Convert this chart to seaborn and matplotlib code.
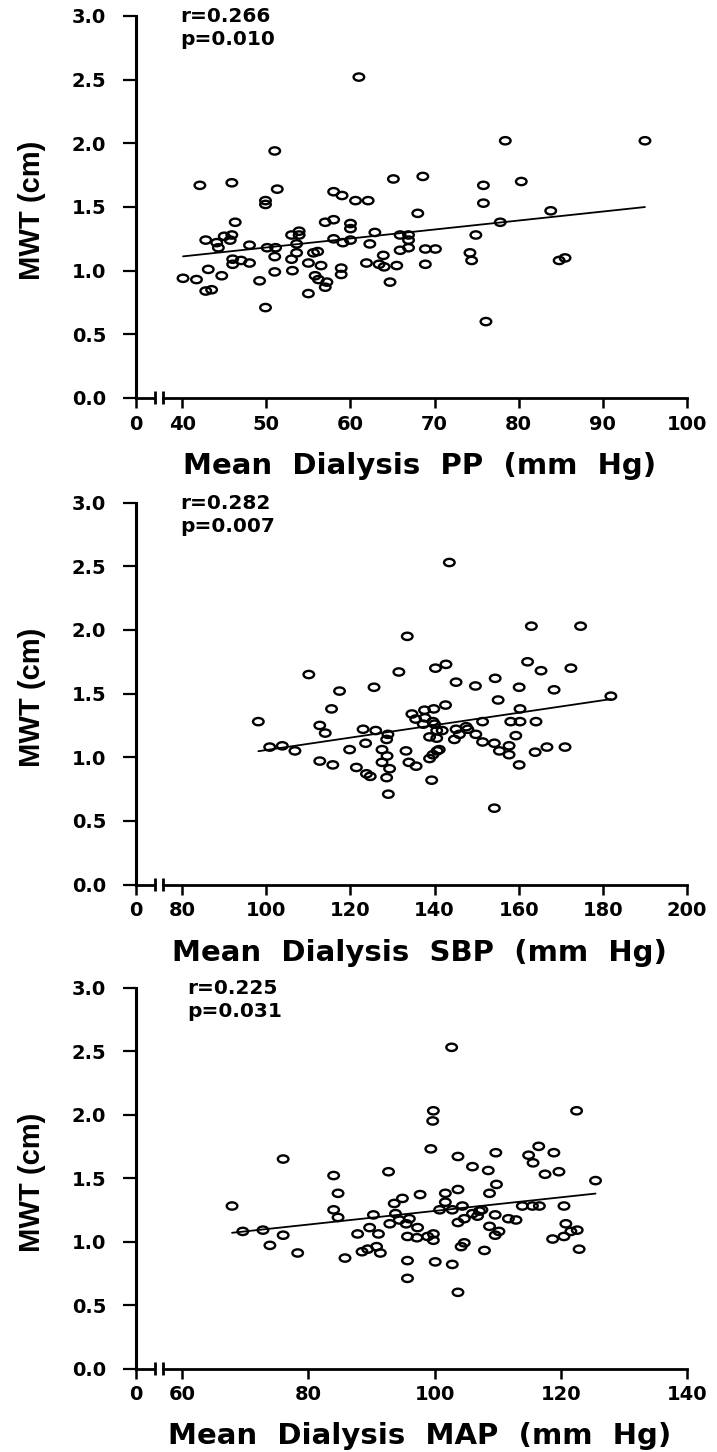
import numpy as np
import pandas as pd
import matplotlib
matplotlib.use("Agg")
import matplotlib.pyplot as plt
import seaborn as sns
from matplotlib.path import Path
from matplotlib.transforms import Affine2D

# ---------------- data ----------------
pp_x = [40.1, 41.7, 42.1, 43.1, 42.8, 43.5, 42.8, 44.1, 44.3, 44.7, 45.0, 45.9, 45.7, 45.9, 46.3,
        46.0, 46.0, 47.0, 48.0, 48.0, 49.2, 49.9, 49.9, 49.9, 51.0, 51.3, 50.1, 51.1, 51.0, 51.0,
        53.0, 53.9, 53.9, 53.6, 53.6, 53.0, 53.1, 55.0, 55.6, 56.1, 55.0, 56.5, 55.8, 56.2, 57.2,
        57.0, 58.0, 59.0, 57.0, 58.0, 60.0, 60.0, 58.0, 59.1, 60.0, 58.9, 58.9, 61.0, 78.4, 95.0,
        65.1, 68.6, 75.8, 80.3, 60.6, 62.1, 75.8, 68.0, 83.8, 62.9, 65.9, 66.9, 66.9, 62.3, 77.8,
        74.9, 66.9, 65.9, 68.9, 70.1, 74.2, 74.4, 63.9, 61.9, 63.4, 64.0, 65.5, 68.9, 64.7, 76.1,
        84.8, 85.5]
pp_mwt = [0.94, 0.93, 1.67, 1.01, 0.84, 0.85, 1.24, 1.22, 1.18, 0.96, 1.27, 1.28, 1.24, 1.69, 1.38,
          1.09, 1.05, 1.08, 1.06, 1.20, 0.92, 1.55, 1.52, 0.71, 1.94, 1.64, 1.18, 1.18, 1.11, 0.99,
          1.28, 1.31, 1.28, 1.21, 1.14, 1.09, 1.00, 0.82, 1.14, 1.15, 1.06, 1.04, 0.96, 0.93, 0.91,
          0.87, 1.62, 1.59, 1.38, 1.40, 1.37, 1.33, 1.25, 1.22, 1.24, 1.02, 0.97, 2.52, 2.02, 2.02,
          1.72, 1.74, 1.67, 1.70, 1.55, 1.55, 1.53, 1.45, 1.47, 1.30, 1.28, 1.28, 1.24, 1.21, 1.38,
          1.28, 1.18, 1.16, 1.17, 1.17, 1.14, 1.08, 1.12, 1.06, 1.05, 1.03, 1.04, 1.05, 0.91, 0.60,
          1.08, 1.10]

sbp_x = [143.5, 163.0, 174.7, 133.5, 110.1, 117.4, 125.6, 131.5, 140.2, 142.7, 145.1, 149.7, 154.4,
         162.1, 165.3, 172.4, 160.1, 168.4, 155.1, 160.3, 98.1, 115.5, 112.7, 114.0, 100.8, 103.8,
         106.8, 112.7, 115.8, 119.8, 123.0, 126.0, 123.6, 128.9, 128.6, 127.5, 128.7, 127.5, 129.3,
         121.4, 123.8, 124.7, 128.6, 129.0, 133.2, 133.9, 135.6, 134.6, 137.6, 139.8, 135.5, 137.7,
         142.6, 137.3, 139.6, 140.0, 138.8, 140.5, 140.5, 141.8, 138.8, 139.6, 140.6, 141.1, 139.3,
         145.1, 147.5, 149.8, 144.7, 145.9, 147.9, 151.4, 151.4, 154.2, 155.4, 157.7, 157.7, 159.3,
         158.1, 160.3, 164.1, 163.9, 166.7, 171.0, 160.1, 154.2, 181.9]
sbp_mwt = [2.53, 2.03, 2.03, 1.95, 1.65, 1.52, 1.55, 1.67, 1.70, 1.73, 1.59, 1.56, 1.62,
           1.75, 1.68, 1.70, 1.55, 1.53, 1.45, 1.38, 1.28, 1.38, 1.25, 1.19, 1.08, 1.09,
           1.05, 0.97, 0.94, 1.06, 1.22, 1.21, 1.11, 1.18, 1.14, 1.06, 1.01, 0.96, 0.91,
           0.92, 0.87, 0.85, 0.84, 0.71, 1.05, 0.96, 0.93, 1.34, 1.37, 1.38, 1.30, 1.31,
           1.41, 1.26, 1.28, 1.26, 1.16, 1.15, 1.21, 1.21, 0.99, 1.02, 1.05, 1.06, 0.82,
           1.22, 1.24, 1.18, 1.14, 1.18, 1.22, 1.28, 1.12, 1.11, 1.05, 1.02, 1.09, 1.17,
           1.28, 1.28, 1.28, 1.04, 1.08, 1.08, 0.94, 0.60, 1.48]

map_x = [102.7, 99.8, 99.7, 122.5, 76.0, 84.0, 84.7, 92.7, 99.4, 103.7, 106.0, 108.5, 109.7, 109.8,
         108.7, 114.9, 115.6, 116.5, 118.9, 117.5, 119.7, 125.5, 67.9, 69.6, 72.8, 73.9, 76.0, 78.3,
         84.0, 84.7, 85.8, 87.8, 89.7, 91.1, 88.5, 89.4, 90.8, 91.4, 90.3, 92.9, 93.8, 94.4, 94.9,
         93.6, 96.0, 95.5, 97.7, 95.7, 97.2, 97.3, 98.9, 99.8, 99.8, 95.7, 100.1, 102.8, 95.7, 103.7,
         101.7, 103.7, 101.7, 100.8, 102.8, 104.4, 103.7, 104.7, 104.2, 104.7, 107.9, 106.0, 107.1,
         107.5, 106.8, 108.7, 109.6, 110.2, 109.6, 111.7, 112.9, 113.9, 115.5, 116.6, 120.5, 118.7,
         120.5, 120.8, 121.6, 122.6, 122.9]
map_mwt = [2.53, 2.03, 1.95, 2.03, 1.65, 1.52, 1.38, 1.55, 1.73, 1.67, 1.59, 1.56, 1.70, 1.45,
           1.38, 1.68, 1.62, 1.75, 1.70, 1.53, 1.55, 1.48, 1.28, 1.08, 1.09, 0.97, 1.05, 0.91,
           1.25, 1.19, 0.87, 1.06, 1.11, 1.06, 0.92, 0.94, 0.96, 0.91, 1.21, 1.14, 1.22, 1.17, 1.34,
           1.30, 1.18, 1.14, 1.37, 1.04, 1.03, 1.11, 1.04, 1.06, 1.01, 0.85, 0.84, 0.82, 0.71, 0.60,
           1.38, 1.41, 1.31, 1.25, 1.25, 1.28, 1.15, 1.18, 0.96, 0.99, 0.93, 1.22, 1.24,
           1.25, 1.20, 1.12, 1.21, 1.08, 1.05, 1.18, 1.17, 1.28, 1.28, 1.28, 1.28, 1.02,
           1.04, 1.14, 1.08, 1.09, 0.94]

pp_ticks = [40, 50, 60, 70, 80, 90, 100]
sbp_ticks = [80, 100, 120, 140, 160, 180, 200]
map_ticks = [60, 80, 100, 120, 140]
y_ticks = [0.0, 0.5, 1.0, 1.5, 2.0, 2.5, 3.0]
y_tick_labels = ["0.0", "0.5", "1.0", "1.5", "2.0", "2.5", "3.0"]
x_labels = ["Mean  Dialysis  PP  (mm  Hg)",
            "Mean  Dialysis  SBP  (mm  Hg)",
            "Mean  Dialysis  MAP  (mm  Hg)"]
y_label = "MWT (cm)"
r_texts = ["r=0.266", "r=0.282", "r=0.225"]
p_texts = ["p=0.010", "p=0.007", "p=0.031"]

# ---------------- style ----------------
sns.set_theme(style="ticks")
plt.rcParams["font.family"] = ["DejaVu Sans"]
plt.rcParams["font.weight"] = "bold"
plt.rcParams["text.color"] = "black"
plt.rcParams["axes.labelcolor"] = "black"
plt.rcParams["xtick.color"] = "black"
plt.rcParams["ytick.color"] = "black"

fig = plt.figure(figsize=(7.17, 14.52), dpi=100)
fig.patch.set_facecolor("white")

rects = [[0.1897, 0.7259, 0.7685, 0.2631],
         [0.1897, 0.3908, 0.7685, 0.2630],
         [0.1897, 0.0575, 0.7685, 0.2623]]
text_x = [0.080, 0.080, 0.093]

# wide ellipse marker (the reference is horizontally stretched)
ell = Path.unit_circle().transformed(Affine2D().scale(1.45, 1.0))

panels = [(pp_x, pp_mwt, pp_ticks), (sbp_x, sbp_mwt, sbp_ticks), (map_x, map_mwt, map_ticks)]
gap_frac = 0.0838      # fraction of axis width between the "0" and the first tick
brk1, brk2 = 0.0345, 0.049

for i, (xs, ys, ticks) in enumerate(panels):
    ax = fig.add_axes(rects[i])
    ax.set_facecolor("white")
    df = pd.DataFrame({"x": xs, "y": ys})
    sns.regplot(data=df, x="x", y="y", ax=ax, ci=None, color="black", marker=ell,
                scatter_kws=dict(s=58, facecolors="none", edgecolors="black",
                                 linewidths=1.7, alpha=1, zorder=3),
                line_kws=dict(color="black", lw=1.3, zorder=2))

    right = ticks[-1]
    left = (ticks[0] - gap_frac * right) / (1 - gap_frac)
    ax.set_xlim(left, right)
    ax.set_ylim(0, 3)
    ax.set_xticks([left] + ticks)
    ax.set_xticklabels(["0"] + [str(t) for t in ticks])
    ax.set_yticks(y_ticks)
    ax.set_yticklabels(y_tick_labels)
    ax.tick_params(axis="y", direction="out", length=9.5, width=1.6, pad=12,
                   labelsize=14, colors="black")
    ax.tick_params(axis="x", direction="out", length=7, width=1.8, pad=5,
                   labelsize=14, colors="black")
    for lab in ax.get_xticklabels() + ax.get_yticklabels():
        lab.set_fontweight("bold")

    for s in ["top", "right"]:
        ax.spines[s].set_visible(False)
    ax.spines["left"].set_linewidth(2.2)
    ax.spines["left"].set_color("black")
    ax.spines["bottom"].set_linewidth(2.0)
    ax.spines["bottom"].set_color("black")
    ax.spines["bottom"].set_bounds(left + brk2 * (right - left), right)
    # short segment before the axis break and the break bars
    ax.plot([0, brk1], [0, 0], transform=ax.transAxes, color="black", lw=2.0,
            clip_on=False, solid_capstyle="butt")
    for b in (brk1, brk2):
        ax.plot([b, b], [-0.017, 0.017], transform=ax.transAxes, color="black",
                lw=2.0, clip_on=False, solid_capstyle="butt")

    ax.set_xlabel(x_labels[i], fontsize=21, fontweight="bold", va="baseline", color="black")
    ax.xaxis.set_label_coords(0.515, -0.199)
    ax.set_ylabel(y_label, fontsize=21, fontweight="bold", va="center", color="black",
                  family=["Liberation Sans", "DejaVu Sans"])
    ax.yaxis.set_label_coords(-0.189, 0.49)

    ax.text(text_x[i], 0.998, r_texts[i], transform=ax.transAxes, fontsize=14.5,
            fontweight="bold", va="center", ha="left", color="black")
    ax.text(text_x[i], 0.938, p_texts[i], transform=ax.transAxes, fontsize=14.5,
            fontweight="bold", va="center", ha="left", color="black")

fig.savefig("out.png", dpi=100, facecolor="white")
